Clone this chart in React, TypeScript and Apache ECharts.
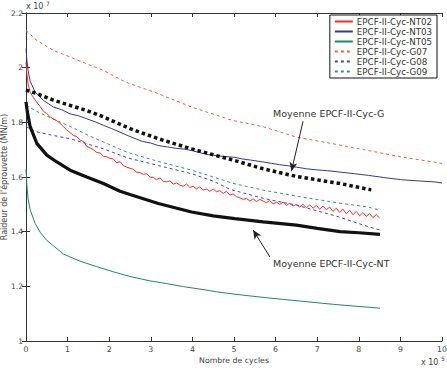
import React, { useEffect, useRef } from "react";
import * as echarts from "echarts";

// x in units of 1e5 cycles, y in units of 1e7 N/m
const nt02: number[][] = [
  [0, 2.02], [0.02, 1.98], [0.05, 1.94], [0.1, 1.91], [0.18, 1.89], [0.25, 1.875], [0.34, 1.858], [0.42, 1.84],
  [0.5, 1.832], [0.58, 1.82], [0.66, 1.812], [0.74, 1.806], [0.82, 1.796], [0.9, 1.784], [0.98, 1.772],
  [1.06, 1.762], [1.14, 1.752], [1.22, 1.748], [1.3, 1.735], [1.38, 1.73], [1.46, 1.712], [1.54, 1.706],
  [1.62, 1.7], [1.7, 1.69], [1.78, 1.688], [1.86, 1.676], [1.94, 1.674], [2.02, 1.668], [2.1, 1.666],
  [2.18, 1.652], [2.26, 1.656], [2.34, 1.642], [2.42, 1.636], [2.5, 1.632], [2.58, 1.628], [2.66, 1.618],
  [2.74, 1.616], [2.82, 1.61], [2.9, 1.612], [2.98, 1.6], [3.06, 1.598], [3.14, 1.59], [3.22, 1.596],
  [3.3, 1.584], [3.38, 1.582], [3.46, 1.586], [3.54, 1.574], [3.62, 1.578], [3.7, 1.57], [3.78, 1.566],
  [3.86, 1.574], [3.94, 1.562], [4.02, 1.566], [4.1, 1.556], [4.18, 1.564], [4.26, 1.552], [4.34, 1.556],
  [4.42, 1.548], [4.5, 1.556], [4.58, 1.546], [4.66, 1.55], [4.74, 1.54], [4.82, 1.548], [4.9, 1.534],
  [4.98, 1.538], [5.06, 1.528], [5.14, 1.524], [5.22, 1.518], [5.3, 1.522], [5.38, 1.512], [5.46, 1.52],
  [5.54, 1.51], [5.62, 1.518], [5.7, 1.512], [5.78, 1.506], [5.86, 1.514], [5.94, 1.502], [6.02, 1.508],
  [6.1, 1.5], [6.18, 1.508], [6.26, 1.496], [6.34, 1.504], [6.42, 1.494], [6.5, 1.5], [6.58, 1.49],
  [6.66, 1.5], [6.74, 1.488], [6.82, 1.498], [6.9, 1.486], [6.98, 1.496], [7.06, 1.482], [7.14, 1.494],
  [7.22, 1.48], [7.3, 1.49], [7.38, 1.474], [7.46, 1.486], [7.54, 1.47], [7.62, 1.482], [7.7, 1.466],
  [7.78, 1.478], [7.86, 1.462], [7.94, 1.474], [8.02, 1.458], [8.1, 1.47], [8.18, 1.456], [8.26, 1.466],
  [8.34, 1.452], [8.42, 1.462], [8.5, 1.45],
];

const nt03: number[][] = [
  [0, 2.07], [0.02, 2.03], [0.05, 1.99], [0.1, 1.95], [0.22, 1.911], [0.42, 1.88], [0.66, 1.856],
  [0.86, 1.846], [1.06, 1.831], [1.26, 1.824], [1.46, 1.813], [1.66, 1.802], [1.86, 1.789], [2.06, 1.777],
  [2.26, 1.764], [2.5, 1.748], [2.8, 1.73], [3.0, 1.724], [3.18, 1.715], [3.4, 1.71], [3.6, 1.705],
  [3.8, 1.702], [3.98, 1.697], [4.2, 1.688], [4.38, 1.682], [4.7, 1.676], [5.02, 1.672], [5.2, 1.666],
  [5.4, 1.662], [5.7, 1.655], [5.9, 1.65], [6.1, 1.645], [6.3, 1.641], [6.5, 1.636], [6.75, 1.63],
  [7.0, 1.626], [7.25, 1.623], [7.55, 1.618], [7.9, 1.612], [8.23, 1.606], [8.6, 1.598], [9.03, 1.59],
  [9.4, 1.586], [9.83, 1.582], [10, 1.578],
];

const nt05: number[][] = [
  [0, 1.63], [0.02, 1.57], [0.05, 1.52], [0.1, 1.48], [0.22, 1.43], [0.34, 1.398], [0.5, 1.368],
  [0.66, 1.348], [0.9, 1.318], [1.3, 1.292], [1.7, 1.272], [2.1, 1.253], [2.5, 1.236], [2.98, 1.22],
  [3.38, 1.21], [3.78, 1.199], [4.18, 1.19], [4.58, 1.18], [4.98, 1.172], [5.38, 1.165], [5.8, 1.158],
  [6.19, 1.152], [6.6, 1.146], [6.99, 1.14], [7.4, 1.134], [7.79, 1.129], [8.2, 1.124], [8.51, 1.12],
];

const g07: number[][] = [
  [0, 2.136], [0.26, 2.1], [0.66, 2.063], [1.06, 2.039], [1.46, 2.014], [1.86, 1.99], [2.38, 1.948],
  [3.18, 1.905], [3.98, 1.856], [4.94, 1.808], [5.7, 1.784], [6.5, 1.746], [7.43, 1.72], [8.23, 1.697],
  [9.03, 1.673], [10, 1.65],
];

const g08: number[][] = [
  [0, 1.784], [0.26, 1.765], [0.66, 1.752], [1.06, 1.74], [1.46, 1.722], [1.86, 1.703], [2.44, 1.67],
  [3.18, 1.642], [3.98, 1.612], [4.5, 1.585], [4.9, 1.555], [5.7, 1.522], [6.5, 1.497], [7.5, 1.455],
  [8.23, 1.418], [8.51, 1.406],
];

const g09: number[][] = [
  [0, 1.863], [0.26, 1.84], [0.66, 1.812], [1.06, 1.785], [1.46, 1.755], [1.86, 1.728], [2.44, 1.69],
  [3.18, 1.657], [3.98, 1.625], [5.0, 1.576], [5.7, 1.552], [6.5, 1.53], [7.5, 1.505], [8.23, 1.49],
  [8.51, 1.478],
];

const meanNT: number[][] = [
  [0, 1.875], [0.03, 1.84], [0.1, 1.784], [0.26, 1.723], [0.5, 1.68], [0.74, 1.655], [1.06, 1.625],
  [1.46, 1.6], [1.86, 1.576], [2.26, 1.548], [2.5, 1.536], [3.18, 1.503], [3.98, 1.472], [4.5, 1.458],
  [5.02, 1.448], [5.7, 1.436], [6.5, 1.424], [7.0, 1.412], [7.55, 1.4], [8.0, 1.396], [8.51, 1.39],
];

const meanG: number[][] = [
  [0, 1.918], [0.26, 1.905], [0.66, 1.881], [1.06, 1.862], [1.46, 1.843], [1.86, 1.82], [2.5, 1.777],
  [3.18, 1.74], [3.98, 1.703], [5.02, 1.66], [5.7, 1.63], [6.5, 1.602], [7.55, 1.576], [8.3, 1.553],
];

const xTicks = [0, 1, 2, 3, 4, 5, 6, 7, 8, 9, 10];
const yTicks = [1, 1.2, 1.4, 1.6, 1.8, 2, 2.2];

const arrowG = [[6.66, 1.804], [6.38, 1.621]];
const arrowNT = [[5.865, 1.307], [5.46, 1.406]];

const FONT = "DejaVu Sans";

export default function App() {
  const ref = useRef<HTMLDivElement>(null);
  useEffect(() => {
    document.body.style.margin = "0";
    const chart = echarts.init(ref.current!, null, { renderer: "svg" });
    const axisLine = { show: true, lineStyle: { color: "#333", width: 1 } };
    const tick = { show: true, inside: true, length: 4, lineStyle: { color: "#333" } };
    const line = (name: string, data: number[][], color: string, width: number, type: any, extra: any = {}) => ({
      name,
      type: "line",
      data,
      symbol: "none",
      showSymbol: false,
      lineStyle: { color, width, type, cap: "butt" },
      itemStyle: { color },
      z: 3,
      ...extra,
    });
    const arrowML = (pts: number[][]) => ({
      silent: true,
      symbol: ["none", "arrow"],
      symbolSize: [6, 9],
      label: { show: false },
      lineStyle: { color: "#222", width: 1, type: "solid" },
      data: [[{ coord: pts[0] }, { coord: pts[1] }]],
    });
    chart.setOption({
      animation: false,
      textStyle: { fontFamily: FONT },
      grid: { left: 26, right: 5, top: 13, bottom: 27, containLabel: false, outerBoundsMode: "none" },
      xAxis: [
        {
          type: "value", min: xTicks[0], max: xTicks[xTicks.length - 1], interval: 1,
          axisLine, axisTick: tick, splitLine: { show: false },
          axisLabel: { color: "#444", fontSize: 7.8, margin: 4, fontFamily: FONT },
          name: "Nombre de cycles", nameLocation: "middle", nameGap: 15, nameMoveOverlap: false,
          nameTextStyle: { color: "#444", fontSize: 7.8, fontFamily: FONT },
        },
        {
          type: "value", position: "top", min: xTicks[0], max: xTicks[xTicks.length - 1], interval: 1,
          axisLine, axisTick: tick, axisLabel: { show: false }, splitLine: { show: false },
        },
      ],
      yAxis: [
        {
          type: "value", min: yTicks[0], max: yTicks[yTicks.length - 1], interval: 0.2,
          axisLine, axisTick: tick, splitLine: { show: false },
          axisLabel: { color: "#444", fontSize: 7.5, margin: 3, fontFamily: FONT, formatter: (v: number) => String(+v.toFixed(1)) },
          name: "Raideur de l'éprouvette (MN/m)", nameLocation: "middle", nameGap: 17.5, nameMoveOverlap: false,
          nameTextStyle: { color: "#444", fontSize: 8, fontFamily: FONT },
        },
        {
          type: "value", position: "right", min: yTicks[0], max: yTicks[yTicks.length - 1], interval: 0.2,
          axisLine, axisTick: tick, axisLabel: { show: false }, splitLine: { show: false },
        },
      ],
      legend: {
        data: ["EPCF-II-Cyc-NT02", "EPCF-II-Cyc-NT03", "EPCF-II-Cyc-NT05", "EPCF-II-Cyc-G07", "EPCF-II-Cyc-G08", "EPCF-II-Cyc-G09"],
        orient: "vertical",
        right: 10,
        top: 15,
        itemWidth: 18,
        itemHeight: 10,
        itemGap: 1,
        padding: [2, 5, 2, 4],
        borderColor: "#111",
        borderWidth: 1,
        borderRadius: 0,
        backgroundColor: "#fff",
        itemStyle: { opacity: 0 },
        textStyle: { fontSize: 8.7, color: "#333", fontFamily: FONT, padding: [0, 0, 0, -1] },
      },
      graphic: [
        { type: "text", left: 26, top: 2, style: { text: "x 10", fontSize: 8, fill: "#444", fontFamily: FONT } },
        { type: "text", left: 46, top: 0, style: { text: "7", fontSize: 6, fill: "#444", fontFamily: FONT } },
        { type: "text", left: 421, top: 358, style: { text: "x 10", fontSize: 8, fill: "#444", fontFamily: FONT } },
        { type: "text", left: 441, top: 355, style: { text: "5", fontSize: 6, fill: "#444", fontFamily: FONT } },
        { type: "text", left: 273, top: 108, style: { text: "Moyenne EPCF-II-Cyc-G", fontSize: 9.5, fill: "#333", fontFamily: FONT } },
        { type: "text", left: 273, top: 258, style: { text: "Moyenne EPCF-II-Cyc-NT", fontSize: 9.5, fill: "#333", fontFamily: FONT } },
      ],
      series: [
        line("EPCF-II-Cyc-G07", g07, "#ff5a46", 1, [3, 3]),
        line("EPCF-II-Cyc-G08", g08, "#4646a0", 1, [3, 3]),
        line("EPCF-II-Cyc-G09", g09, "#2a9a78", 1, [3, 3]),
        line("EPCF-II-Cyc-NT05", nt05, "#1f8a5e", 1, "solid"),
        line("EPCF-II-Cyc-NT03", nt03, "#38388e", 1, "solid"),
        line("EPCF-II-Cyc-NT02", nt02, "#ff2a1a", 1, "solid"),
        line("Moyenne EPCF-II-Cyc-NT", meanNT, "#111", 3.2, "solid", { markLine: arrowML(arrowNT) }),
        line("Moyenne EPCF-II-Cyc-G", meanG, "#111", 3.5, [3.5, 3], { markLine: arrowML(arrowG) }),
      ],
    });
    return () => chart.dispose();
  }, []);
  return <div ref={ref} style={{ width: 447, height: 368 }} />;
}
